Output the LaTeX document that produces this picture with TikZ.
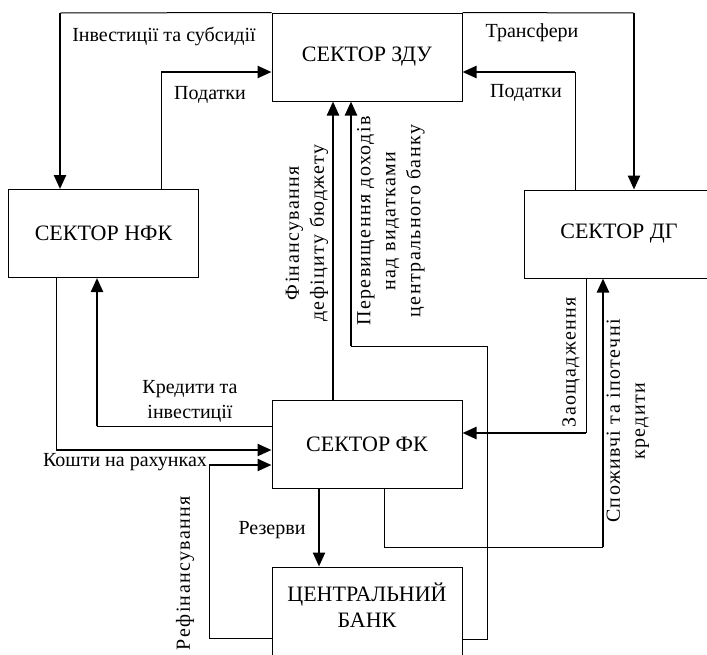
\documentclass[tikz,border=0pt]{standalone}
\usepackage{fontspec}
\setmainfont{Liberation Serif}
\usetikzlibrary{arrows.meta}
\begin{document}
\begin{tikzpicture}[x=1pt,y=-1pt,
  boxfont/.style={font=\fontsize{22}{26}\selectfont},
  box/.style={draw,line width=1pt,minimum width=190pt,minimum height=88pt,inner sep=0pt,boxfont},
  lbl/.style={font=\fontsize{20}{25}\selectfont,inner sep=0pt,align=center},
  vlbl/.style={lbl,rotate=90,font=\fontsize{20}{25}\selectfont\addfontfeature{LetterSpace=7}},
  thinl/.style={line width=1pt},
  arr/.style={line width=2.4pt,-{Triangle[length=14pt,width=12pt]}},
]
\useasboundingbox (0,0) rectangle (707,654);
% boxes
\node[box] (zdu) at (367,57) {СЕКТОР ЗДУ};
\node[box] (nfk) at (103.5,233.5) {СЕКТОР НФК};
\node[box] (dg) at (619,234) {СЕКТОР ДГ};
\node[box] (fk) at (367,444.5) {СЕКТОР ФК};
\node[box,minimum height=100pt] (cb) at (367,617) {};
\node[boxfont,align=center,inner sep=0pt] (cbt) at (367,605) {ЦЕНТРАЛЬНИЙ\\БАНК};
% bend points
\coordinate (a1) at (60,13);
\coordinate (p1) at (161,72);
\coordinate (t1) at (634,13);
\coordinate (p2) at (575,72);
\coordinate (f1) at (333,400);
\coordinate (e1) at (487,346);
\coordinate (e2) at (351,346);
\coordinate (e3) at (487,639);
\coordinate (k1) at (97,426);
\coordinate (k2) at (56,450);
\coordinate (r1) at (209,638);
\coordinate (r2) at (209,465);
\coordinate (z1) at (319,489);
\coordinate (s1) at (586,433);
\coordinate (c1) at (384,547);
\coordinate (c2) at (603,547);
% connectors
\draw[thinl] (zdu.north west) -- (a1);
\draw[arr] (a1) -- (a1 |- nfk.north);
\draw[thinl] (p1 |- nfk.north) -- (p1);
\draw[arr] (p1) -- (p1 -| zdu.west);
\draw[thinl] (zdu.north east) -- (t1);
\draw[arr] (t1) -- (t1 |- dg.north);
\draw[thinl] (p2 |- dg.north) -- (p2);
\draw[arr] (p2) -- (p2 -| zdu.east);
\draw[arr] (f1 |- fk.north) -- (f1 |- zdu.south);
\draw[thinl] (cb.east |- e3) -- (e3) -- (e1) -- (e2);
\draw[arr] (e2) -- (e2 |- zdu.south);
\draw[thinl] (k1 -| fk.west) -- (k1);
\draw[arr] (k1) -- (k1 |- nfk.south);
\draw[thinl] (k2 |- nfk.south) -- (k2);
\draw[arr] (k2) -- (k2 -| fk.west);
\draw[thinl] (r1 -| cb.west) -- (r1) -- (r2);
\draw[arr] (r2) -- (r2 -| fk.west);
\draw[arr] (z1 |- fk.south) -- (z1 |- cb.north);
\draw[thinl] (s1 |- dg.south) -- (s1);
\draw[arr] (s1) -- (s1 -| fk.east);
\draw[thinl] (c1 |- fk.south) -- (c1) -- (c2);
\draw[arr] (c2) -- (c2 |- dg.south);
% labels
\node[lbl] (l1) at (164,36) {Інвестиції та субсидії};
\node[lbl] (l2) at (210,95) {Податки};
\node[lbl] (l3) at (532,33) {Трансфери};
\node[lbl] (l4) at (526,93) {Податки};
\node[vlbl] (l5) at (307,233) {Фінансування\\дефіциту бюджету};
\node[vlbl] (l6) at (391,221) {Перевищення доходів\\над видатками\\центрального банку};
\node[vlbl] (l7) at (571,362) {Заощадження};
\node[vlbl] (l8) at (628,421) {Споживчі та іпотечні\\кредити};
\node[lbl] (l9) at (190,401) {Кредити та\\інвестиції};
\node[lbl] (l10) at (125,462) {Кошти на рахунках};
\node[vlbl] (l11) at (185,573) {Рефінансування};
\node[lbl] (l12) at (272,530) {Резерви};
\end{tikzpicture}
\end{document}
